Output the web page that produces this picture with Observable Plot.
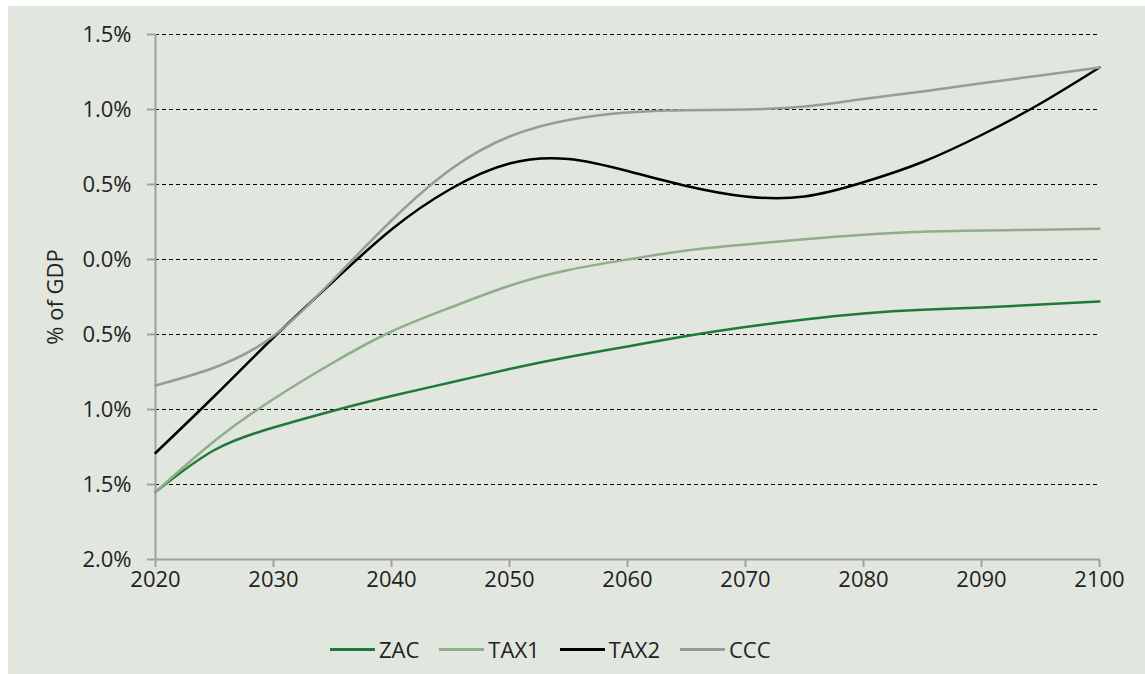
<!DOCTYPE html>
<html>
<head>
<meta charset="utf-8">
<script src="https://cdn.jsdelivr.net/npm/d3@7"></script>
<script src="https://cdn.jsdelivr.net/npm/@observablehq/plot@0.6"></script>
<style>
  html, body { margin: 0; padding: 0; background: #ffffff; }
  #panel { position: absolute; left: 8px; top: 6px; width: 1137px; height: 668px; background: #e1e6df; font-family: "Open Sans", "Noto Sans", sans-serif; }
  #legend { position: absolute; left: 322px; top: 628px; display: flex; gap: 20px; align-items: center; font-size: 22px; color: #222; line-height: 30px; }
  #legend .item { display: flex; align-items: center; gap: 4px; }
  #legend .sw { width: 45px; height: 3px; }
</style>
</head>
<body>
<div id="panel"><div id="chart"></div><div id="legend"></div></div>
<script>
const years = [2020,2025,2030,2035,2040,2045,2050,2055,2060,2065,2070,2075,2080,2085,2090,2095,2100];
const zac  = [-1.55,-1.27,-1.12,-1.01,-0.91,-0.82,-0.73,-0.65,-0.58,-0.51,-0.45,-0.40,-0.36,-0.335,-0.32,-0.30,-0.28];
const tax1 = [-1.55,-1.21,-0.93,-0.69,-0.48,-0.32,-0.175,-0.07,0.00,0.06,0.10,0.135,0.165,0.185,0.193,0.198,0.205];
const tax2 = [-1.29,-0.91,-0.52,-0.15,0.20,0.47,0.64,0.67,0.59,0.49,0.42,0.42,0.515,0.65,0.83,1.04,1.28];
const ccc  = [-0.84,-0.72,-0.51,-0.14,0.26,0.60,0.82,0.93,0.98,0.995,1.00,1.02,1.07,1.12,1.175,1.227,1.28];
const seriesNames = ["ZAC","TAX1","TAX2","CCC"];
const seriesColors = ["#1f7a3a","#8fae8a","#000000","#9a9a9a"];
const yTicks = [1.5,1.0,0.5,0.0,-0.5,-1.0,-1.5,-2.0];
const xTicks = [2020,2030,2040,2050,2060,2070,2080,2090,2100];

const allSeries = [zac, tax1, tax2, ccc];
const data = [];
seriesNames.forEach((name, i) => {
  years.forEach((yr, j) => data.push({series: name, year: yr, value: allSeries[i][j]}));
});

const fmt = d => Math.abs(d).toFixed(1) + "%";

const chart = Plot.plot({
  width: 1137,
  height: 600,
  marginLeft: 147,
  marginRight: 46,
  marginTop: 28,
  marginBottom: 47,
  style: {background: "transparent", fontFamily: "'Open Sans', 'Noto Sans', sans-serif", fontSize: "23px", color: "#222"},
  x: {domain: [2020, 2100]},
  y: {domain: [-2.0, 1.5]},
  color: {domain: seriesNames, range: seriesColors},
  marks: [
    Plot.ruleY(yTicks.filter(d => d > -2.0), {stroke: "#000", strokeWidth: 1, strokeDasharray: "4,3"}),
    Plot.axisY({ticks: yTicks, tickFormat: fmt, tickSize: 8, tickPadding: 16, stroke: "#a0a0a0", strokeWidth: 2, label: "% of GDP", labelAnchor: "center", labelArrow: "none", labelOffset: 108, fontSize: 22}),
    Plot.axisX({ticks: xTicks, tickFormat: d => String(d), tickSize: 8, tickPadding: 4, stroke: "#a0a0a0", strokeWidth: 2, label: null, fontSize: 22}),
    Plot.ruleX([2020], {stroke: "#a0a0a0", strokeWidth: 2}),
    Plot.ruleY([-2.0], {stroke: "#a0a0a0", strokeWidth: 2}),
    Plot.line(data, {x: "year", y: "value", z: "series", stroke: "series", strokeWidth: 2.5, curve: "natural"})
  ]
});
document.getElementById("chart").appendChild(chart);

const legend = document.getElementById("legend");
seriesNames.forEach((name, i) => {
  const item = document.createElement("div");
  item.className = "item";
  const sw = document.createElement("span");
  sw.className = "sw";
  sw.style.background = seriesColors[i];
  const tx = document.createElement("span");
  tx.textContent = name;
  item.appendChild(sw);
  item.appendChild(tx);
  legend.appendChild(item);
});
</script>
</body>
</html>
